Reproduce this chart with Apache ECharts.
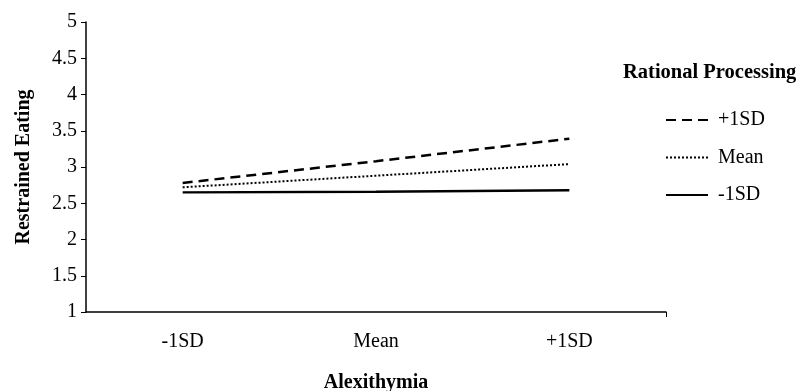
<!DOCTYPE html>
<html>
<head>
<meta charset="utf-8">
<script src="https://cdn.jsdelivr.net/npm/echarts@6/dist/echarts.min.js"></script>
<style>html,body{margin:0;padding:0;background:#fff}#c{width:801px;height:391px}</style>
</head>
<body>
<div id="c"></div>
<script>
const categories = ['-1SD', 'Mean', '+1SD'];
const seriesNames = ['+1SD', 'Mean', '-1SD'];
const highRP = [2.78, 3.08, 3.39];
const meanRP = [2.72, 2.88, 3.04];
const lowRP = [2.65, 2.66, 2.68];
const yTicks = [1, 1.5, 2, 2.5, 3, 3.5, 4, 4.5, 5];

const FONT = '"Liberation Serif", "Times New Roman", serif';
const FS = 20;
const chart = echarts.init(document.getElementById('c'), null, {renderer: 'canvas'});
chart.setOption({
  animation: false,
  backgroundColor: '#fff',
  textStyle: {fontFamily: FONT, color: '#000'},
  title: {
    text: 'Rational Processing', left: 618, top: 57,
    textStyle: {fontFamily: FONT, fontWeight: 'bold', fontSize: 20.5, color: '#000'}
  },
  legend: {
    orient: 'vertical', left: 660, top: 105,
    itemWidth: 42, itemHeight: 14, itemGap: 17.5,
    data: seriesNames,
    itemStyle: {color: 'rgba(0,0,0,0)', borderWidth: 0, opacity: 0},
    textStyle: {fontFamily: FONT, fontSize: FS, color: '#000', padding: [0, 0, 0, 5]}
  },
  grid: {left: 86, right: 135, top: 22, bottom: 79, outerBoundsMode: 'none', containLabel: false},
  xAxis: [{
    type: 'category', data: categories, boundaryGap: true,
    name: 'Alexithymia', nameLocation: 'middle', nameGap: 61,
    nameTextStyle: {fontFamily: FONT, fontWeight: 'bold', fontSize: FS, color: '#000'},
    axisLine: {lineStyle: {color: '#000', width: 1.5}},
    axisTick: {alignWithLabel: true, length: 5, lineStyle: {color: '#000', width: 1}},
    axisLabel: {margin: 20, fontFamily: FONT, fontSize: FS, color: '#000'}
  }, {
    type: 'value', position: 'bottom', min: 0, max: 1, interval: 1,
    axisLine: {show: false}, splitLine: {show: false},
    axisTick: {show: true, length: 5, customValues: [1], lineStyle: {color: '#000', width: 1}},
    axisLabel: {show: false}
  }],
  yAxis: {
    type: 'value', min: yTicks[0], max: yTicks[yTicks.length - 1], interval: 0.5,
    name: 'Restrained Eating', nameLocation: 'middle', nameGap: 52, nameRotate: 90,
    nameTextStyle: {fontFamily: FONT, fontWeight: 'bold', fontSize: FS, color: '#000'},
    splitLine: {show: false},
    axisLine: {show: true, lineStyle: {color: '#000', width: 1.5}},
    axisTick: {show: true, length: 5, lineStyle: {color: '#000', width: 1}},
    axisLabel: {margin: 9, fontFamily: FONT, fontSize: FS, color: '#000'}
  },
  series: [
    {name: seriesNames[0], type: 'line', data: highRP, symbol: 'none',
     lineStyle: {color: '#000', width: 2.5, type: [10, 6]}, itemStyle: {color: '#000'}},
    {name: seriesNames[1], type: 'line', data: meanRP, symbol: 'none',
     lineStyle: {color: '#000', width: 2, type: [2, 2]}, itemStyle: {color: '#000'}},
    {name: seriesNames[2], type: 'line', data: lowRP, symbol: 'none',
     lineStyle: {color: '#000', width: 2.5, type: 'solid'}, itemStyle: {color: '#000'}}
  ]
});
</script>
</body>
</html>
